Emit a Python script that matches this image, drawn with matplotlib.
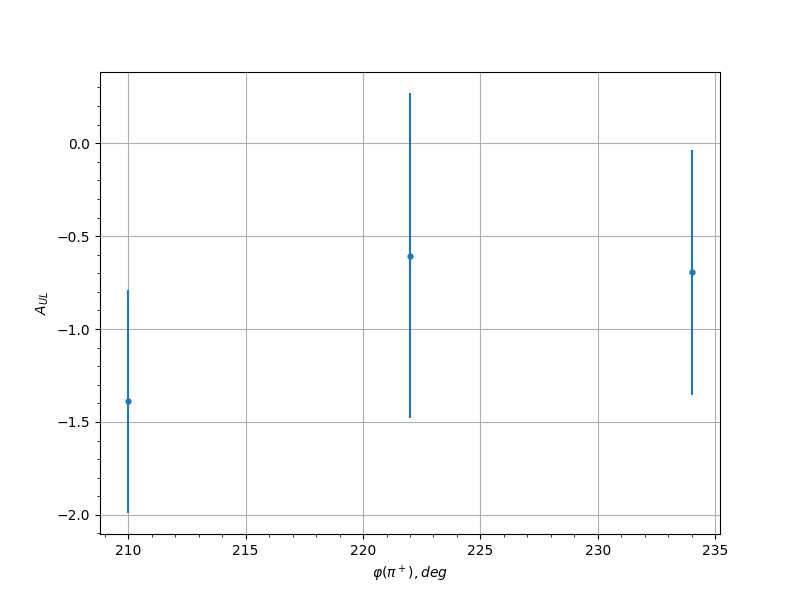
import matplotlib
matplotlib.use("Agg")
import matplotlib.pyplot as plt

phi = [210, 222, 234]
a_ul = [-1.39, -0.605, -0.695]
a_err = [0.60, 0.875, 0.658]

fig, ax = plt.subplots(figsize=(8, 6), dpi=100)
ax.errorbar(phi, a_ul, yerr=a_err, fmt='o', markersize=3.5, color='#1f77b4')
ax.set_xlabel(r'$\varphi(\pi^+), deg$')
ax.set_ylabel(r'$A_{UL}$')
ax.grid(True)
ax.minorticks_on()
fig.savefig('out.png', dpi=100)
